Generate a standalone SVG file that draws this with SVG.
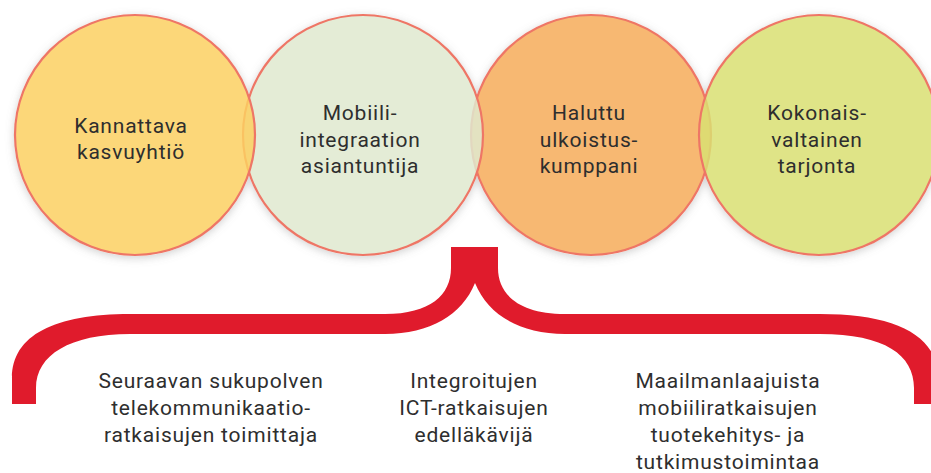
<svg xmlns="http://www.w3.org/2000/svg" width="931" height="473" viewBox="0 0 931 473">
  <defs>
    <filter id="shadow" x="-10%" y="-10%" width="120%" height="130%">
      <feDropShadow dx="0" dy="2" stdDeviation="4" flood-color="#7a7a7a" flood-opacity="0.35"/>
    </filter>
    <style>
      .circ { stroke: #ee7666; stroke-width: 2.2; fill-opacity: 0.85; }
      .under { fill: #ffffff; }
      .lbl { font-family: Roboto, "DejaVu Sans", sans-serif; font-size: 21px; letter-spacing: 0.8px; fill: #2e2e2e; text-anchor: middle; }
      .brace { fill: #e01b2c; }
    </style>
  </defs>
  <rect width="931" height="473" fill="#ffffff"/>

  <g id="circle-shadows" filter="url(#shadow)">
    <circle class="under" cx="135" cy="135" r="121"/>
    <circle class="under" cx="363" cy="135" r="121"/>
    <circle class="under" cx="591" cy="135" r="121"/>
    <circle class="under" cx="819" cy="135" r="121"/>
  </g>

  <g id="circles">
    <g id="node-haluttu">
      <circle class="circ" cx="591" cy="135" r="120" fill="#f6ab59"/>
    </g>
    <g id="node-kokonais">
      <circle class="circ" cx="819" cy="135" r="120" fill="#d9df72"/>
    </g>
    <g id="node-mobiili">
      <circle class="circ" cx="363" cy="135" r="120" fill="#dfe9cf"/>
    </g>
    <g id="node-kannattava">
      <circle class="circ" cx="135" cy="135" r="120" fill="#fbd062"/>
    </g>
  </g>

  <g id="circle-labels">
    <text class="lbl" x="131" y="133">Kannattava</text>
    <text class="lbl" x="131" y="159">kasvuyhtiö</text>
    <text class="lbl" x="360" y="120">Mobiili-</text>
    <text class="lbl" x="360" y="147">integraation</text>
    <text class="lbl" x="360" y="173">asiantuntija</text>
    <text class="lbl" x="589" y="120">Haluttu</text>
    <text class="lbl" x="589" y="147">ulkoistus-</text>
    <text class="lbl" x="589" y="173">kumppani</text>
    <text class="lbl" x="817" y="120">Kokonais-</text>
    <text class="lbl" x="817" y="147">valtainen</text>
    <text class="lbl" x="817" y="173">tarjonta</text>
  </g>

  <g id="connectors">
    <path id="brace" class="brace" d="M 12,404 L 12,378 C 12,335 55,314 130,314 L 385,314 C 430,314 451,295 451,268 L 451,247 L 498,247 L 498,268 C 498,295 520,314 565,314 L 820,314 C 895,314 938,335 938,378 L 938,404 L 914,404 L 914,388 C 914,355 885,334 820,334 L 565,334 C 520,334 488,315 475,283 C 462,315 430,334 385,334 L 130,334 C 70,334 36,355 36,388 L 36,404 Z"/>
  </g>

  <g id="bottom-labels">
    <text class="lbl" x="211" y="388">Seuraavan sukupolven</text>
    <text class="lbl" x="211" y="415">telekommunikaatio-</text>
    <text class="lbl" x="211" y="442">ratkaisujen toimittaja</text>
    <text class="lbl" x="474" y="388">Integroitujen</text>
    <text class="lbl" x="474" y="415">ICT-ratkaisujen</text>
    <text class="lbl" x="474" y="442">edelläkävijä</text>
    <text class="lbl" x="728" y="388">Maailmanlaajuista</text>
    <text class="lbl" x="728" y="415">mobiiliratkaisujen</text>
    <text class="lbl" x="728" y="442">tuotekehitys- ja</text>
    <text class="lbl" x="728" y="469">tutkimustoimintaa</text>
  </g>
</svg>
